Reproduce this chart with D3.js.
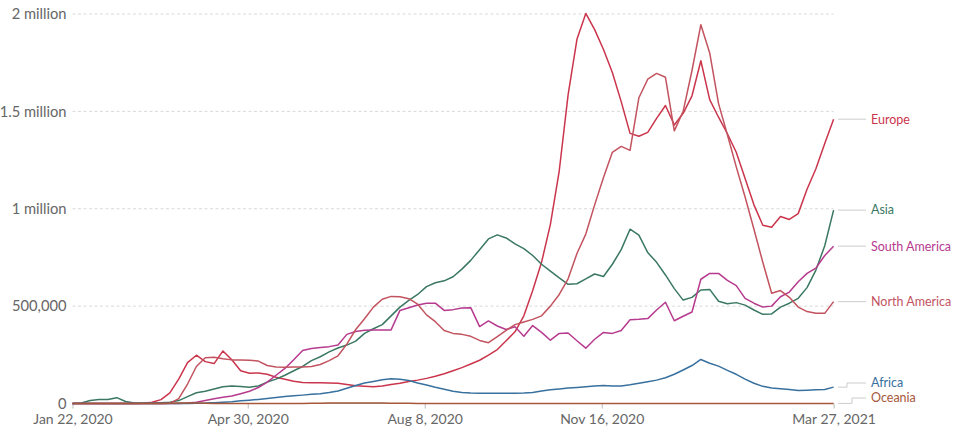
<!DOCTYPE html>
<html>
<head>
<meta charset="utf-8">
<script src="https://cdn.jsdelivr.net/npm/d3@7"></script>
<style>
  body { margin: 0; background: #fff; }
  svg { font-family: Lato, "Open Sans", sans-serif; }
</style>
</head>
<body>
<div id="chart"></div>
<script>
// datos: casos semanales (miles), un punto cada 5 dias desde el 22 ene 2020
var startDate = new Date(2020, 0, 22)
var endDate = new Date(2021, 2, 27)
var dayOffsets = d3.range(0, 431, 5)

var continents = ['Europe', 'Asia', 'South America', 'North America', 'Africa', 'Oceania']

var europe = [0, 0, 0, 0, 0, 0, 0, 0, 1, 6, 20, 55, 125, 210, 248, 215, 205, 270, 225, 168,
  155, 157, 150, 135, 125, 114, 108, 107, 106, 105, 104, 98, 91, 88, 86, 90, 98, 104, 113, 120,
  129, 140, 153, 168, 184, 203, 222, 248, 277, 322, 368, 450, 580, 725, 920, 1195, 1585, 1870, 2003, 1920,
  1818, 1700, 1550, 1387, 1372, 1392, 1464, 1530, 1430, 1490, 1580, 1760, 1560, 1470, 1385, 1290, 1155, 1020, 915, 905,
  960, 945, 975, 1100, 1205, 1335, 1460]

var northAmerica = [0, 0, 0, 0, 0, 0, 0, 0, 0, 0, 0, 1, 25, 100, 190, 235, 238, 230, 224, 223,
  222, 218, 195, 188, 186, 187, 188, 190, 200, 220, 245, 305, 380, 435, 495, 535, 550, 548, 538, 510,
  455, 420, 375, 360, 355, 345, 324, 312, 343, 375, 405, 418, 432, 450, 500, 560, 640, 770, 870, 1020,
  1160, 1290, 1320, 1300, 1570, 1665, 1695, 1675, 1400, 1500, 1710, 1945, 1800, 1540, 1380, 1215, 1060, 895, 725, 566,
  580, 545, 495, 472, 463, 463, 523]

var asia = [0, 3, 15, 21, 20, 30, 10, 3, 3, 3, 4, 6, 15, 35, 55, 63, 74, 86, 90, 87,
  84, 90, 110, 125, 145, 168, 190, 220, 240, 265, 285, 300, 320, 360, 384, 405, 450, 495, 530, 560,
  600, 620, 630, 651, 690, 735, 790, 845, 866, 850, 820, 795, 760, 715, 680, 645, 612, 615, 640, 665,
  652, 715, 790, 895, 865, 775, 725, 660, 590, 531, 545, 583, 586, 525, 512, 518, 505, 480, 458, 460,
  495, 515, 540, 595, 685, 810, 993]

var southAmerica = [0, 0, 0, 0, 0, 0, 0, 0, 0, 0, 0, 0, 0, 2, 6, 15, 24, 32, 38, 50,
  63, 82, 110, 145, 180, 225, 272, 282, 287, 292, 300, 355, 370, 376, 377, 377, 378, 478, 492, 506,
  515, 515, 478, 482, 490, 492, 395, 424, 398, 380, 394, 345, 400, 365, 325, 360, 362, 322, 284, 330,
  365, 360, 375, 430, 432, 436, 480, 520, 425, 448, 470, 638, 668, 668, 632, 605, 540, 515, 495, 500,
  548, 572, 625, 668, 695, 760, 808]

var africa = [0, 0, 0, 0, 0, 0, 0, 0, 0, 0, 0, 0, 0, 0, 1, 2, 4, 6, 9, 14,
  17, 21, 26, 31, 36, 40, 43, 47, 50, 56, 64, 78, 92, 105, 113, 122, 127, 125, 118, 105,
  95, 83, 73, 63, 57, 54, 53, 52, 52, 52, 53, 54, 56, 64, 70, 74, 79, 82, 86, 90,
  92, 90, 90, 96, 104, 112, 120, 132, 150, 172, 195, 226, 207, 192, 170, 150, 125, 104, 88, 80,
  76, 72, 67, 68, 70, 72, 84]

var oceania = [0, 0, 0, 0, 0, 0, 0, 0, 0.5, 0.5, 0.5, 1.5, 2.5, 2.8, 2, 1, 0.5, 0.3, 0.2, 0.2,
  0.2, 0.2, 0.2, 0.3, 0.3, 0.4, 0.6, 1, 1.5, 2, 2.5, 3, 3, 2.8, 2.5, 2, 1.5, 1, 0.8, 0.6,
  0.5, 0.5, 0.5, 0.5, 0.5, 0.5, 0.5, 0.5, 0.5, 0.5, 0.5, 0.5, 0.5, 0.5, 0.5, 0.5, 0.5, 0.5, 0.5, 0.5,
  0.5, 0.5, 0.5, 0.5, 0.5, 0.5, 0.5, 0.5, 0.5, 0.5, 0.5, 0.5, 0.5, 0.5, 0.5, 0.5, 0.5, 0.5, 0.5, 0.5,
  0.5, 0.5, 0.5, 0.5, 0.5, 0.5, 0.5]

var seriesValues = [europe, asia, southAmerica, northAmerica, africa, oceania]

var yTicks = [0, 500, 1000, 1500, 2000]
var yTickLabels = ['0', '500,000', '1 million', '1.5 million', '2 million']
var xTicks = [new Date(2020, 0, 22), new Date(2020, 3, 30), new Date(2020, 7, 8), new Date(2020, 10, 16), new Date(2021, 2, 27)]
var xTickLabels = ['Jan 22, 2020', 'Apr 30, 2020', 'Aug 8, 2020', 'Nov 16, 2020', 'Mar 27, 2021']

// colores por continente
var colores = {
  'Europe': '#cb354c',
  'Asia': '#3a7862',
  'South America': '#b63a8e',
  'North America': '#c2535f',
  'Africa': '#38709e',
  'Oceania': '#a6583a'
}

var width = 958
var height = 441
var plotLeft = 72.5
var plotRight = 833.6
var plotBottom = 403.5
var plotTop = 14

var svg = d3.select('#chart')
  .append('svg')
  .attr('width', width)
  .attr('height', height)

var x = d3.scaleTime().domain([startDate, endDate]).range([plotLeft, plotRight])
var y = d3.scaleLinear().domain([0, 2000]).range([plotBottom, plotTop])

// rejilla horizontal
svg.append('g')
  .selectAll('line')
  .data(yTicks.filter((d) => d > 0))
  .enter()
  .append('line')
  .attr('x1', plotLeft)
  .attr('x2', plotRight)
  .attr('y1', (d) => y(d))
  .attr('y2', (d) => y(d))
  .attr('stroke', '#d9d9d9')
  .attr('stroke-dasharray', '3,2.5')

var yAxis = d3.axisLeft(y)
  .tickValues(yTicks)
  .tickSize(0)
  .tickPadding(6)
  .tickFormat((d, i) => yTickLabels[i])

var gy = svg.append('g')
  .attr('transform', 'translate(' + plotLeft + ',0)')
  .call(yAxis)
gy.select('.domain').remove()
gy.selectAll('text')
  .style('fill', '#666')
  .style('font-size', '14.7px')
  .style('font-family', 'Lato, sans-serif')

var xAxis = d3.axisBottom(x)
  .tickValues(xTicks)
  .tickSize(5)
  .tickPadding(6)
  .tickFormat((d, i) => xTickLabels[i])

var gx = svg.append('g')
  .attr('transform', 'translate(0,' + plotBottom + ')')
  .call(xAxis)
gx.select('.domain').attr('stroke', '#bbb').attr('d', 'M' + plotLeft + ',0H' + plotRight)
gx.selectAll('.tick line').attr('stroke', '#bbb')
gx.selectAll('text')
  .style('fill', '#666')
  .style('font-size', '14px')
  .style('font-family', 'Lato, sans-serif')

// lineas
var line = d3.line()
  .x((d, i) => x(d3.timeDay.offset(startDate, dayOffsets[i])))
  .y((d) => y(d))

svg.append('g')
  .selectAll('path')
  .data(continents)
  .enter()
  .append('path')
  .attr('d', (c, i) => line(seriesValues[i]))
  .attr('fill', 'none')
  .attr('stroke', (c) => colores[c])
  .attr('stroke-width', 1.5)
  .attr('stroke-linejoin', 'round')

// etiquetas al final de cada linea, evitando solapes
var labels = continents.map((c, i) => {
  var v = seriesValues[i][seriesValues[i].length - 1]
  return { name: c, lineY: y(v), labelY: y(v) }
})
labels.sort((a, b) => b.lineY - a.lineY)
var maxY = plotBottom - 5.5
labels.forEach((d, i) => {
  var limit = (i === 0) ? maxY : labels[i - 1].labelY - 15
  if (d.labelY > limit) d.labelY = limit
})

var shifted = 0
var lg = svg.append('g')
labels.slice().reverse().forEach((d) => {
  var p
  if (Math.abs(d.labelY - d.lineY) < 0.5) {
    p = 'M838,' + d.lineY + 'H866'
  } else {
    var ex = 847 + shifted * 5
    shifted++
    p = 'M838,' + d.lineY + 'H' + ex + 'V' + d.labelY + 'H866'
  }
  lg.append('path')
    .attr('d', p)
    .attr('fill', 'none')
    .attr('stroke', '#ccc')
    .attr('stroke-width', 1)
  lg.append('text')
    .attr('x', 871)
    .attr('y', d.labelY)
    .attr('dy', '0.35em')
    .style('font-size', '12.5px')
    .style('fill', colores[d.name])
    .text(d.name)
})
</script>
</body>
</html>
